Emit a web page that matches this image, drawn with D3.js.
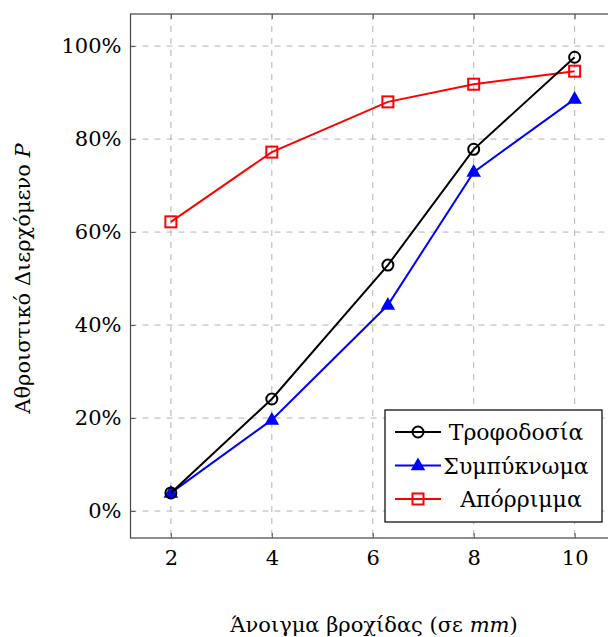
<!DOCTYPE html>
<html>
<head>
<meta charset="utf-8">
<script src="https://cdn.jsdelivr.net/npm/d3@7"></script>
<style>
  body { margin: 0; background: #fff; }
  svg text { font-family: "DejaVu Serif", serif !important; }
</style>
</head>
<body>
<div id="chart"></div>
<script>
const openings = [2, 4, 6.3, 8, 10]
const feed = [3.9, 24.1, 52.9, 77.8, 97.6]
const concentrate = [3.9, 19.6, 44.3, 72.9, 88.6]
const tailings = [62.2, 77.2, 88.0, 91.8, 94.6]
const xTicks = [2, 4, 6, 8, 10]
const yTicks = [0, 20, 40, 60, 80, 100]
const seriesNames = ['Τροφοδοσία', 'Συμπύκνωμα', 'Απόρριμμα']

const svgWidth = 608
const svgHeight = 637
const margin = {top: 14, right: -7, bottom: 99, left: 130.5}
const width = svgWidth - margin.left - margin.right
const height = svgHeight - margin.top - margin.bottom

const svg = d3.select('#chart').append('svg')
  .attr('width', svgWidth)
  .attr('height', svgHeight)

const x = d3.scaleLinear().domain([1.2, 10.8]).range([0, width])
const y = d3.scaleLinear().domain([-5.8, 106.9]).range([height, 0])

const g = svg.append('g')
  .attr('transform', 'translate(' + margin.left + ',' + margin.top + ')')

// grid
g.selectAll('.gx').data(xTicks).enter().append('line')
  .attr('x1', d => x(d)).attr('x2', d => x(d))
  .attr('y1', 0).attr('y2', height)
  .attr('stroke', '#b3b3b3').attr('stroke-dasharray', '6,6')
g.selectAll('.gy').data(yTicks).enter().append('line')
  .attr('x1', 0).attr('x2', width)
  .attr('y1', d => y(d)).attr('y2', d => y(d))
  .attr('stroke', '#b3b3b3').attr('stroke-dasharray', '6,6')

// axes
const xAxis = d3.axisBottom(x).tickValues(xTicks).tickSize(-5).tickPadding(12)
const yAxis = d3.axisLeft(y).tickValues(yTicks).tickSize(-5).tickPadding(9)
  .tickFormat(d => d + '%')

const gx = g.append('g').attr('transform', 'translate(0,' + height + ')').call(xAxis)
const gy = g.append('g').call(yAxis)
const gxTop = g.append('g').call(d3.axisTop(x).tickValues(xTicks).tickSize(-5).tickFormat(''))
const gyRight = g.append('g').attr('transform', 'translate(' + width + ',0)')
  .call(d3.axisRight(y).tickValues(yTicks).tickSize(-5).tickFormat(''))

;[gx, gy, gxTop, gyRight].forEach(a => {
  a.attr('font-family', null)
  a.select('.domain').remove()
  a.selectAll('line').attr('stroke', '#555')
  a.selectAll('text').attr('font-size', 21).attr('fill', '#000')
})

g.append('rect')
  .attr('width', width).attr('height', height)
  .attr('fill', 'none').attr('stroke', '#444').attr('stroke-width', 1.2)

// series
const line = d3.line().x(d => x(d[0])).y(d => y(d[1]))
const series = [
  {name: seriesNames[0], values: feed, color: '#000', marker: 'circle'},
  {name: seriesNames[1], values: concentrate, color: '#0000ff', marker: 'triangle'},
  {name: seriesNames[2], values: tailings, color: '#ff0000', marker: 'square'}
]

function drawMarker(sel, type, color) {
  if (type === 'circle') {
    sel.append('circle').attr('r', 5.5)
      .attr('fill', 'none').attr('stroke', color).attr('stroke-width', 2)
  } else if (type === 'triangle') {
    sel.append('path').attr('d', 'M0,-6.5L6,4L-6,4Z')
      .attr('fill', color).attr('stroke', color).attr('stroke-width', 1.5)
  } else {
    sel.append('rect').attr('x', -5.5).attr('y', -5.5).attr('width', 11).attr('height', 11)
      .attr('fill', 'none').attr('stroke', color).attr('stroke-width', 2)
  }
}

series.slice().reverse().forEach(s => {
  const pts = openings.map((o, i) => [o, s.values[i]])
  g.append('path').datum(pts)
    .attr('fill', 'none').attr('stroke', s.color).attr('stroke-width', 2)
    .attr('d', line)
  pts.forEach(p => {
    drawMarker(g.append('g').attr('transform', 'translate(' + x(p[0]) + ',' + y(p[1]) + ')'), s.marker, s.color)
  })
})

// legend
const legend = svg.append('g').attr('transform', 'translate(385,410)')
legend.append('rect').attr('width', 217).attr('height', 112)
  .attr('fill', '#fff').attr('stroke', '#000').attr('stroke-width', 1.2)
series.forEach((s, i) => {
  const row = legend.append('g').attr('transform', 'translate(0,' + (22 + i * 33.5) + ')')
  row.append('line').attr('x1', 10).attr('x2', 56)
    .attr('stroke', s.color).attr('stroke-width', 2)
  drawMarker(row.append('g').attr('transform', 'translate(33,0)'), s.marker, s.color)
  row.append('text').attr('x', i === 2 ? 136 : 131).attr('y', 8)
    .attr('text-anchor', 'middle').attr('font-size', 22).text(s.name)
})

// axis titles
const xLabel = svg.append('text')
  .attr('x', 374).attr('y', 632)
  .attr('text-anchor', 'middle').attr('font-size', 21)
xLabel.append('tspan').text('Άνοιγμα βροχίδας (σε ')
xLabel.append('tspan').attr('font-style', 'italic').text('mm')
xLabel.append('tspan').text(')')

const yLabel = svg.append('text')
  .attr('transform', 'translate(30,' + (margin.top + y(50)) + ') rotate(-90)')
  .attr('text-anchor', 'middle').attr('font-size', 21)
yLabel.append('tspan').text('Αθροιστικό Διερχόμενο ')
yLabel.append('tspan').attr('font-style', 'italic').text('P')
</script>
</body>
</html>
